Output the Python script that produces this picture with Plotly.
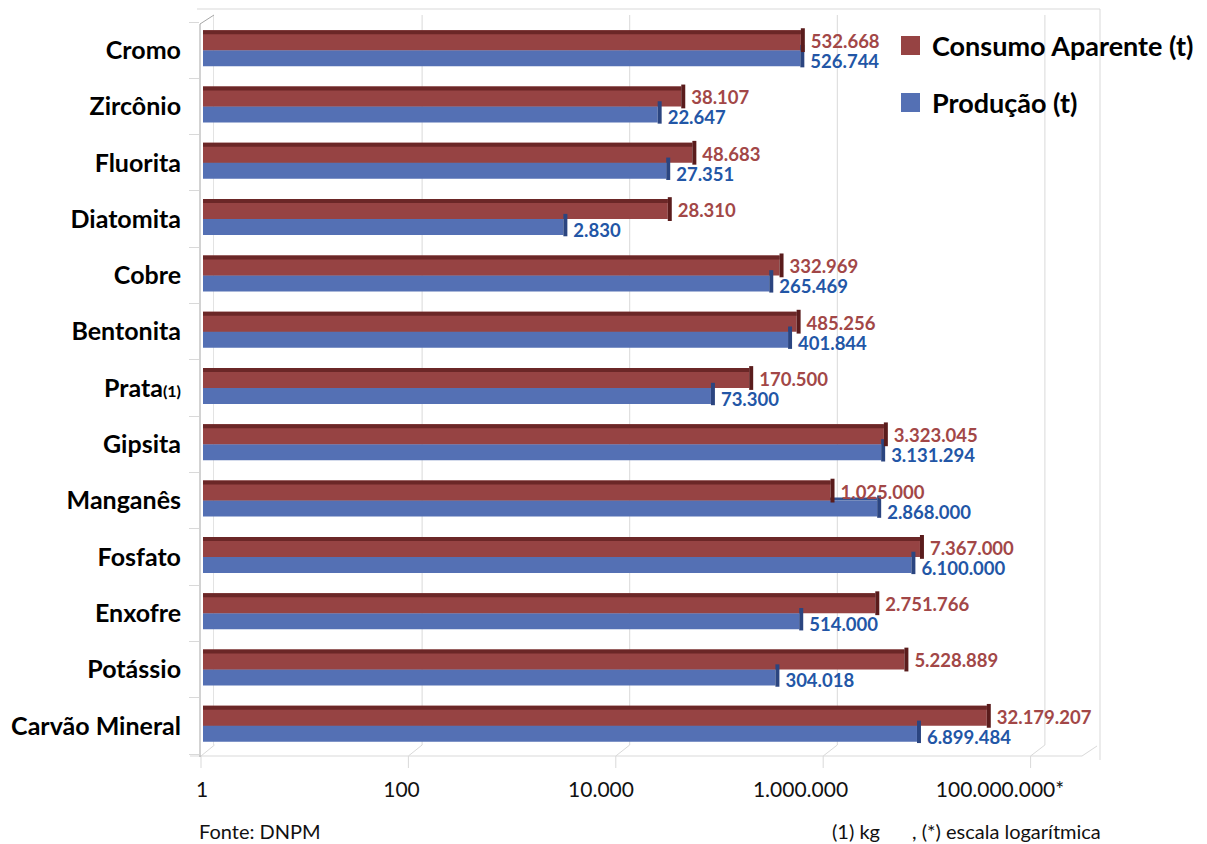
import math
import plotly.graph_objects as go

# Minerals (top to bottom) and apparent consumption / production
minerais = ["Cromo", "Zircônio", "Fluorita", "Diatomita", "Cobre", "Bentonita",
            "Prata<span style='font-size:16px'>(1)</span>", "Gipsita", "Manganês",
            "Fosfato", "Enxofre", "Potássio", "Carvão Mineral"]
consumo = [532668, 38107, 48683, 28310, 332969, 485256, 170500,
           3323045, 1025000, 7367000, 2751766, 5228889, 32179207]
producao = [526744, 22647, 27351, 2830, 265469, 401844, 73300,
            3131294, 2868000, 6100000, 514000, 304018, 6899484]
eixo_vals = [1, 100, 10000, 1000000, 100000000]
eixo_txt = ["1", "100", "10.000", "1.000.000", "100.000.000*"]
serie_consumo = "Consumo Aparente (t)"
serie_producao = "Produção (t)"

FONT = "Lato"
RED, RED_TOP, RED_END, RED_TXT = "#964343", "#6B2727", "#5A1C1C", "#A24747"
BLUE, BLUE_TOP, BLUE_END, BLUE_TXT = "#5470B4", "#34528F", "#2B4580", "#2256A6"
GRID, WALL = "#D9D9D9", "#A6A6A6"

# page geometry
W, H = 1207, 844
L, R, T, B = 200, 107, 22, 90
PW, PH = W - L - R, H - T - B
ROW = PH / len(minerais)

# horizontal scales (pixels per decade) for bars, front floor edge and back wall
BAR0, DEC = 203.0, 104.4
FRONT0, DEC_F = 201.0, 103.7
BACK0, DEC_B = 214.5, 103.8
LAB0, DEC_L = 202.0, 99.75


def px(x):
    return (x - L) / PW


def py(y):
    return 1 - (y - T) / PH


def fmt(v):
    return f"{v:,}".replace(",", ".")


idx = list(range(len(minerais)))
shift_cap = 10 ** (2.0 / DEC)
shift_txt = 10 ** (10.0 / DEC)

fig = go.Figure()

# bars: production (lower), consumption (upper), each with a darker top face
fig.add_trace(go.Bar(y=idx, x=producao, base=1, orientation="h", offset=-3 / ROW,
                     width=3 / ROW, marker=dict(color=BLUE_TOP, line_width=0),
                     showlegend=False, hoverinfo="skip"))
fig.add_trace(go.Bar(y=idx, x=producao, base=1, orientation="h", offset=0.0,
                     width=16 / ROW, marker=dict(color=BLUE, line_width=0),
                     name=serie_producao, showlegend=False))
fig.add_trace(go.Bar(y=idx, x=consumo, base=1, orientation="h", offset=-20 / ROW,
                     width=20 / ROW, marker=dict(color=RED, line_width=0),
                     name=serie_consumo, showlegend=False))
fig.add_trace(go.Bar(y=idx, x=consumo, base=1, orientation="h", offset=-20 / ROW,
                     width=4 / ROW, marker=dict(color=RED_TOP, line_width=0),
                     showlegend=False, hoverinfo="skip"))

# darker end faces of the bars
fig.add_trace(go.Scatter(x=[v * shift_cap for v in producao], y=[i + 6 / ROW for i in idx],
                         mode="markers", showlegend=False, hoverinfo="skip", cliponaxis=False,
                         marker=dict(symbol="line-ns", size=16,
                                     line=dict(color=BLUE_END, width=4))))
fig.add_trace(go.Scatter(x=[v * shift_cap for v in consumo], y=[i - 10 / ROW for i in idx],
                         mode="markers", showlegend=False, hoverinfo="skip", cliponaxis=False,
                         marker=dict(symbol="line-ns", size=17,
                                     line=dict(color=RED_END, width=4))))

# value labels
fig.add_trace(go.Scatter(x=[v * shift_txt for v in consumo], y=[i - 6.7 / ROW for i in idx],
                         mode="text", text=[fmt(v) for v in consumo],
                         textposition="middle right", cliponaxis=False,
                         textfont=dict(family=FONT, size=18.5, color=RED_TXT, weight="bold"),
                         showlegend=False, hoverinfo="skip"))
fig.add_trace(go.Scatter(x=[v * shift_txt for v in producao], y=[i + 13.3 / ROW for i in idx],
                         mode="text", text=[fmt(v) for v in producao],
                         textposition="middle right", cliponaxis=False,
                         textfont=dict(family=FONT, size=18.5, color=BLUE_TXT, weight="bold"),
                         showlegend=False, hoverinfo="skip"))

# tick labels axis (overlay, no marks)
fig.add_trace(go.Scatter(x=[eixo_vals[0]], y=[0], xaxis="x2", mode="markers",
                         marker=dict(opacity=0), showlegend=False, hoverinfo="skip"))

# frame: walls, floor, gridlines
shapes = []


def line(x0, y0, x1, y1, color=GRID, width=1):
    shapes.append(dict(type="line", xref="paper", yref="paper", layer="below",
                       x0=px(x0), y0=py(y0), x1=px(x1), y1=py(y1),
                       line=dict(color=color, width=width)))


line(197, 9, 1100, 9)
line(1100, 9, 1100, 760)
line(190, 756, 1082, 756)
line(1082, 756, 1097, 746)
for v in eixo_vals:
    lg = math.log10(v)
    xb = BACK0 + DEC_B * lg
    xf = FRONT0 + DEC_F * lg
    if v > 1:
        line(xb, 15, xb, 745)
    line(xb, 745, xf, 756)
    line(xf, 756, xf, 768)
line(213.5, 15, 213.5, 745, color="#E3E3E3")
line(200, 24, 200, 757, color=WALL)
line(200, 24, 214, 15, color=WALL)

# legend
annotations = []
for k, (nome, cor) in enumerate([(serie_consumo, RED), (serie_producao, BLUE)]):
    yc = 45.5 + 57 * k
    shapes.append(dict(type="rect", xref="paper", yref="paper", layer="above",
                       x0=px(901), x1=px(920), y0=py(yc - 9.5), y1=py(yc + 9.5),
                       fillcolor=cor, line_width=0))
    annotations.append(dict(xref="paper", yref="paper", x=px(930), y=py(yc),
                            xanchor="left", yanchor="middle", showarrow=False,
                            text=nome, font=dict(family=FONT, size=27, color="#000000",
                                                 weight="bold")))

FOOT = dict(family=FONT, size=20, color="#111111")
annotations.append(dict(xref="paper", yref="paper", x=px(197), y=py(831),
                        xanchor="left", yanchor="middle", showarrow=False,
                        text="Fonte: DNPM", font=FOOT))
annotations.append(dict(xref="paper", yref="paper", x=px(830), y=py(831),
                        xanchor="left", yanchor="middle", showarrow=False,
                        text="(1) kg", font=FOOT))
annotations.append(dict(xref="paper", yref="paper", x=px(910), y=py(831),
                        xanchor="left", yanchor="middle", showarrow=False,
                        text=", (*) escala logarítmica", font=FOOT))

fig.update_layout(
    width=W, height=H,
    margin=dict(l=L, r=R, t=T, b=B, pad=0),
    paper_bgcolor="white", plot_bgcolor="white",
    barmode="overlay",
    showlegend=False,
    xaxis=dict(type="log", range=[(L - BAR0) / DEC, (W - R - BAR0) / DEC],
               showgrid=False, showticklabels=False, ticks="", zeroline=False,
               showline=False),
    xaxis2=dict(type="log", overlaying="x", anchor="y", side="bottom",
                range=[(L - LAB0) / DEC_L, (W - R - LAB0) / DEC_L],
                tickmode="array", tickvals=eixo_vals, ticktext=eixo_txt,
                showgrid=False, ticks="", showline=False, zeroline=False,
                ticklabelstandoff=21,
                tickfont=dict(family=FONT, size=21, color="#111111")),
    yaxis=dict(range=[len(minerais) - 0.5, -0.5], tickmode="array",
               tickvals=idx, ticktext=minerais, ticks="", showgrid=False,
               zeroline=False, showline=False, ticklabelstandoff=18,
               tickfont=dict(family=FONT, size=25, color="#000000", weight="bold"),
               minor=dict(tick0=0.5, dtick=1, ticks="outside", ticklen=10,
                          tickcolor=GRID, showgrid=False)),
    shapes=shapes,
    annotations=annotations,
)

fig.write_html("out.html")
